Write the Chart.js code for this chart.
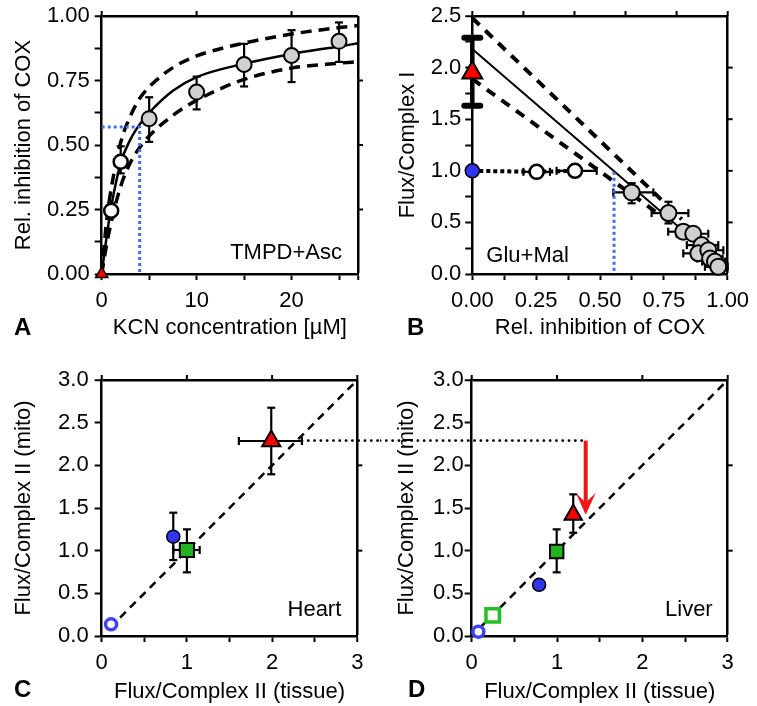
<!DOCTYPE html>
<html>
<head>
<meta charset="utf-8">
<script src="https://cdn.jsdelivr.net/npm/chart.js@4.4.1/dist/chart.umd.min.js"></script>
<style>
    html, body { margin: 0; padding: 0; background: #fff; }
    #wrap { position: relative; width: 757px; height: 706px; overflow: hidden; }
    canvas { position: absolute; }
</style>
</head>
<body>
<div id="wrap">
    <canvas id="chartA" width="380" height="340" style="left:0px;top:0px"></canvas>
    <canvas id="chartB" width="377" height="340" style="left:380px;top:0px"></canvas>
    <canvas id="chartC" width="380" height="366" style="left:0px;top:340px"></canvas>
    <canvas id="chartD" width="377" height="366" style="left:380px;top:340px"></canvas>
</div>
<script>
// ---------- A: KCN titration (TMPD+Asc) ----------
const kcnOpen = [1, 2];
const inhibOpen = [0.245, 0.435];
const inhibOpenLo = [0.22, 0.39];
const inhibOpenHi = [0.275, 0.495];
const kcnGray = [5, 10, 15, 20, 25];
const inhibGray = [0.602, 0.705, 0.812, 0.847, 0.902];
const inhibGrayLo = [0.512, 0.638, 0.727, 0.744, 0.822];
const inhibGrayHi = [0.685, 0.765, 0.892, 0.945, 0.975];
const fitKcn = [0, 0.5, 1, 2, 3, 4, 5, 7.5, 10, 15, 20, 25, 27];
const fitMid = [0, 0.14, 0.26, 0.43, 0.52, 0.58, 0.625, 0.71, 0.763, 0.815, 0.853, 0.882, 0.894];
const fitHigh = [0, 0.2, 0.33, 0.51, 0.61, 0.68, 0.725, 0.8, 0.845, 0.895, 0.93, 0.955, 0.963];
const fitLow = [0, 0.11, 0.2, 0.34, 0.43, 0.49, 0.535, 0.615, 0.673, 0.754, 0.798, 0.817, 0.823];
const guideAX = [0, 4.0, 4.0];
const guideAY = [0.57, 0.57, 0];

// ---------- B: flux vs COX inhibition (Glu+Mal) ----------
const bTriX = [0], bTriY = [1.95], bTriLo = [1.63], bTriHi = [2.29];
const bBlueX = [0], bBlueY = [1.0];
const bOpenX = [0.252, 0.402];
const bOpenY = [0.99, 1.0];
const bOpenXLo = [0.2, 0.33];
const bOpenXHi = [0.304, 0.487];
const bGrayX = [0.624, 0.768, 0.826, 0.865, 0.898, 0.885, 0.924, 0.931, 0.95, 0.963];
const bGrayY = [0.79, 0.59, 0.41, 0.39, 0.28, 0.2, 0.23, 0.15, 0.12, 0.07];
const bGrayXLo = [0.552, 0.702, 0.767, 0.8, 0.84, 0.826, 0.865, 0.88, 0.9, 0.911];
const bGrayXHi = [0.709, 0.846, 0.88, 0.924, 0.963, 0.94, 0.983, 0.98, 0.99, 1.0];
const bGrayYLo = [0.685, 0.49, 0.37, 0.35, 0.25, 0.17, 0.2, 0.12, 0.09, 0.05];
const bGrayYHi = [0.88, 0.70, 0.45, 0.43, 0.31, 0.23, 0.26, 0.18, 0.15, 0.09];
const bDotX = [0, 0.252, 0.402], bDotY = [1.0, 0.99, 1.0];
const guideBX = [0.555, 0.555], guideBY = [0.99, 0];
const regX = [0, 0.98], regMid = [2.18, 0.09];
const bandX = [0, 0.82], bandHigh = [2.48, 0.53], bandLow = [1.89, 0.42];

// ---------- C: heart ----------
const heartTriX = [1.99], heartTriY = [2.285];
const heartTriYLo = [1.895], heartTriYHi = [2.675], heartTriXLo = [1.61], heartTriXHi = [2.35];
const heartSqX = [1.0], heartSqY = [1.008];
const heartSqYLo = [0.746], heartSqYHi = [1.25], heartSqXLo = [0.84], heartSqXHi = [1.15];
const heartBlueX = [0.84], heartBlueY = [1.164], heartBlueYLo = [0.89], heartBlueYHi = [1.445];
const heartOpenX = [0.11], heartOpenY = [0.137];

// ---------- D: liver ----------
const liverTriX = [1.19], liverTriY = [1.42], liverTriYLo = [1.21], liverTriYHi = [1.66];
const liverSqX = [0.996], liverSqY = [0.99], liverSqYLo = [0.746], liverSqYHi = [1.25];
const liverBlueX = [0.79], liverBlueY = [0.60], liverBlueXLo = [0.745], liverBlueXHi = [0.835];
const liverOpenSqX = [0.246], liverOpenSqY = [0.242];
const liverOpenX = [0.078], liverOpenY = [0.05];

const identityX = [0.1, 3], identityY = [0.1, 3];
const bridgeY = 2.29;          // dotted line heart -> liver
const arrowX = 1.336, arrowTip = 1.42;

// ---------- tick lists (the last entry of x / y is the far edge of the box) ----------
const ticksA = { x: [0, 5, 10, 15, 20, 25, 27], xl: [0, 10, 20], xt: [0, 10, 20],
                 y: [0, 0.125, 0.25, 0.375, 0.5, 0.625, 0.75, 0.875, 1], yl: [0, 0.25, 0.5, 0.75, 1], yr: [0.25, 0.5, 0.75] };
const ticksB = { x: [0, 0.125, 0.25, 0.375, 0.5, 0.625, 0.75, 0.875, 1], xl: [0, 0.25, 0.5, 0.75, 1], xt: [0, 0.2, 0.4, 0.6, 0.8, 1],
                 y: [0, 0.25, 0.5, 0.75, 1, 1.25, 1.5, 1.75, 2, 2.25, 2.5], yl: [0, 0.5, 1, 1.5, 2, 2.5], yr: [0.5, 1, 1.5, 2] };
const ticksCD = { x: [0, 0.5, 1, 1.5, 2, 2.5, 3], xl: [0, 1, 2, 3], xt: [0, 1, 2, 3],
                  y: [0, 0.5, 1, 1.5, 2, 2.5, 3], yl: [0, 0.5, 1, 1.5, 2, 2.5, 3], yr: [1, 2] };

const RED = '#ff0000', BLUE = '#3035f2', GREEN = '#1eb41e', GUIDE = '#3f6df4', GRAY = '#d0d0d0';

Chart.defaults.font.family = "'Liberation Sans', Arial, Helvetica, sans-serif";
Chart.defaults.font.size = 22;
Chart.defaults.color = '#000';

let pt = function (xs, ys) {
    return xs.map(function (x, i) { return { x: x, y: ys[i] }; });
};

let marker = function (xs, ys, style) {
    return Object.assign({ data: pt(xs, ys), showLine: false, clip: false,
        borderColor: '#000', borderWidth: 2, pointHoverRadius: style.pointRadius }, style);
};

let curve = function (xs, ys, style) {
    return Object.assign({ data: pt(xs, ys), showLine: true, pointRadius: 0, pointHoverRadius: 0,
        fill: false, clip: false, borderColor: '#000', borderWidth: 2.5 }, style);
};

let same = function (a, b) { return Math.abs(a - b) < 1e-9; };

let frameAxes = function (p) {
    let edge = { display: true, width: 2.5, color: '#000' };
    // grid lines are only drawn (in black) at the far edge, which closes the box
    let marks = function (len, far) {
        return {
            display: true, drawOnChartArea: true, drawTicks: true, tickLength: len,
            tickWidth: 2, tickColor: '#000',
            color: function (c) { return c.tick && same(c.tick.value, far) ? '#000' : 'rgba(0,0,0,0)'; },
            lineWidth: function (c) { return c.tick && same(c.tick.value, far) ? 2.5 : 1; }
        };
    };
    let fixTicks = function (list) {
        return function (scale) { scale.ticks = list.map(function (v) { return { value: v }; }); };
    };
    let label = function (list, digits) {
        return function (value) {
            return list.some(function (v) { return same(v, value); }) ? value.toFixed(digits) : '';
        };
    };
    let size = function (key, px) {
        return function (scale) {
            scale[key] = px;
            scale.paddingLeft = 0; scale.paddingRight = 0; scale.paddingTop = 0; scale.paddingBottom = 0;
        };
    };
    let t = p.ticks;
    return {
        x: { type: 'linear', position: 'bottom', min: p.xMin, max: p.xMax, border: edge, grid: marks(6, p.xMax),
             afterBuildTicks: fixTicks(t.x), afterFit: size('height', p.box[3]),
             ticks: { autoSkip: false, maxRotation: 0, padding: 8, callback: label(t.xl, p.xDigits) },
             title: { display: true, text: p.xTitle, font: { size: 22, lineHeight: 1 }, padding: { top: 0, bottom: p.xTitlePad } } },
        y: { type: 'linear', position: 'left', min: p.yMin, max: p.yMax, border: edge, grid: marks(7, p.yMax),
             afterBuildTicks: fixTicks(t.y), afterFit: size('width', p.box[0]),
             ticks: { autoSkip: false, padding: p.yTickPad, callback: label(t.yl, p.yDigits) },
             title: { display: true, text: p.yTitle, font: { size: 22, lineHeight: 1 }, padding: { top: p.yTitlePad, bottom: 0 } } }
    };
};

let seg = function (ctx, x1, y1, x2, y2) {
    ctx.beginPath(); ctx.moveTo(x1, y1); ctx.lineTo(x2, y2); ctx.stroke();
};

let drawErrors = function (chart, list) {
    const ctx = chart.ctx, sx = chart.scales.x, sy = chart.scales.y;
    list.forEach(function (e) {
        ctx.save();
        ctx.setLineDash([]);
        ctx.strokeStyle = '#000';
        const cap = e.cap || 4, lw = e.lw || 2.2, capLw = e.capLw || 2.2;
        for (let i = 0; i < e.x.length; i++) {
            const px = sx.getPixelForValue(e.x[i]);
            const py = sy.getPixelForValue(e.y[i]);
            if (e.yLo) {
                const a = sy.getPixelForValue(e.yLo[i]), b = sy.getPixelForValue(e.yHi[i]);
                ctx.lineWidth = lw; ctx.lineCap = 'butt'; seg(ctx, px, a, px, b);
                ctx.lineWidth = capLw; ctx.lineCap = e.round ? 'round' : 'butt';
                seg(ctx, px - cap, a, px + cap, a); seg(ctx, px - cap, b, px + cap, b);
            }
            if (e.xLo) {
                const a = sx.getPixelForValue(e.xLo[i]), b = sx.getPixelForValue(e.xHi[i]);
                ctx.lineWidth = lw; ctx.lineCap = 'butt'; seg(ctx, a, py, b, py);
                ctx.lineWidth = capLw; ctx.lineCap = 'butt';
                seg(ctx, a, py - cap, a, py + cap); seg(ctx, b, py - cap, b, py + cap);
            }
        }
        ctx.restore();
    });
};

let drawExtras = function (chart, o, p) {
    const ctx = chart.ctx, area = chart.chartArea, sx = chart.scales.x, sy = chart.scales.y;
    ctx.save();
    ctx.setLineDash([]);
    ctx.fillStyle = '#000';
    ctx.textBaseline = 'middle';
    if (o.note) {
        ctx.font = "22px 'Liberation Sans', Arial, sans-serif";
        ctx.textAlign = o.note.align;
        let nx = o.note.align === 'left' ? area.left + o.note.dx : area.right - o.note.dx;
        ctx.fillText(o.note.text, nx, area.bottom - o.note.dy);
    }
    if (o.letter) {
        ctx.font = "bold 24px 'Liberation Sans', Arial, sans-serif";
        ctx.textAlign = 'left';
        ctx.textBaseline = 'alphabetic';
        ctx.fillText(o.letter.text, o.letter.x, o.letter.y);
    }
    if (o.bridge) {
        const y = sy.getPixelForValue(o.bridge.y);
        const x1 = o.bridge.from === null ? 0 : sx.getPixelForValue(o.bridge.from);
        const x2 = o.bridge.to === null ? chart.width : sx.getPixelForValue(o.bridge.to);
        ctx.strokeStyle = '#000';
        ctx.lineWidth = 2.8;
        ctx.lineCap = 'round';
        ctx.setLineDash([0.1, 6.2]);
        seg(ctx, x1, y, x2, y);
        ctx.setLineDash([]);
    }
    if (o.arrow) {
        const x = sx.getPixelForValue(o.arrow.x);
        const y1 = sy.getPixelForValue(o.arrow.from);
        const y2 = sy.getPixelForValue(o.arrow.to);
        ctx.strokeStyle = '#f01616';
        ctx.fillStyle = '#f01616';
        ctx.lineWidth = 4;
        ctx.lineCap = 'butt';
        seg(ctx, x, y1, x, y2 - 12);
        ctx.beginPath();
        ctx.moveTo(x, y2);
        ctx.lineTo(x - 10, y2 - 22);
        ctx.lineTo(x, y2 - 12);
        ctx.lineTo(x + 10, y2 - 22);
        ctx.closePath();
        ctx.fill();
    }
    // outward tick marks on the top and right edges
    const top = sy.getPixelForValue(p.yMax), right = sx.getPixelForValue(p.xMax);
    ctx.strokeStyle = '#000';
    ctx.lineCap = 'butt';
    ctx.lineWidth = 2;
    p.ticks.xt.forEach(function (v) {
        const x = sx.getPixelForValue(v);
        seg(ctx, x, top, x, top - 5);
    });
    p.ticks.yr.forEach(function (v) {
        const y = sy.getPixelForValue(v);
        seg(ctx, right, y, right + 5, y);
    });
    ctx.restore();
};

let makeChart = function (id, datasets, p, decor) {
    return new Chart(document.getElementById(id), {
        type: 'scatter',
        data: { datasets: datasets },
        options: {
            responsive: false,
            animation: false,
            devicePixelRatio: 1,
            events: [],
            layout: { padding: { left: 0, bottom: 0, top: p.box[2], right: p.box[1] } },
            scales: frameAxes(p),
            plugins: { legend: { display: false }, tooltip: { enabled: false } }
        },
        plugins: [{
            id: 'decor',
            beforeDatasetsDraw: function (c) { drawErrors(c, decor.errors); },
            afterDraw: function (c) { drawExtras(c, decor, p); }
        }]
    });
};

// ---------- panel A ----------
makeChart('chartA', [
    marker([0], [0], { pointStyle: 'triangle', pointRadius: 7, backgroundColor: RED, borderWidth: 1.5 }),
    marker(kcnOpen, inhibOpen, { pointRadius: 7, backgroundColor: '#fff', borderWidth: 2.5 }),
    marker(kcnGray, inhibGray, { pointRadius: 7.5, backgroundColor: GRAY, borderWidth: 2 }),
    curve(guideAX, guideAY, { borderColor: GUIDE, borderWidth: 3, borderDash: [3, 3] }),
    curve(fitKcn, fitMid, { cubicInterpolationMode: 'monotone', borderWidth: 2.5 }),
    curve(fitKcn, fitHigh, { cubicInterpolationMode: 'monotone', borderWidth: 3.5, borderDash: [11, 7] }),
    curve(fitKcn, fitLow, { cubicInterpolationMode: 'monotone', borderWidth: 3.5, borderDash: [11, 7] })
], {
    xMin: 0, xMax: 27, yMin: 0, yMax: 1, ticks: ticksA, xDigits: 0, yDigits: 2,
    box: [101.7, 22, 16, 66], yTickPad: 5, xTitlePad: 1, yTitlePad: 13,
    xTitle: 'KCN concentration [\u00b5M]', yTitle: 'Rel. inhibition of COX'
}, {
    errors: [
        { x: kcnOpen, y: inhibOpen, yLo: inhibOpenLo, yHi: inhibOpenHi },
        { x: kcnGray, y: inhibGray, yLo: inhibGrayLo, yHi: inhibGrayHi }
    ],
    note: { text: 'TMPD+Asc', align: 'right', dx: 16, dy: 21 },
    letter: { text: 'A', x: 14, y: 335 }
});

// ---------- panel B ----------
makeChart('chartB', [
    marker(bTriX, bTriY, { pointStyle: 'triangle', pointRadius: 11.5, backgroundColor: RED, borderWidth: 2 }),
    marker(bBlueX, bBlueY, { pointRadius: 7, backgroundColor: BLUE, borderWidth: 1.5 }),
    marker(bOpenX, bOpenY, { pointRadius: 7, backgroundColor: '#fff', borderWidth: 2.5 }),
    marker(bGrayX, bGrayY, { pointRadius: 8, backgroundColor: GRAY, borderWidth: 2 }),
    curve(bDotX, bDotY, { borderWidth: 4, borderDash: [4, 3] }),
    curve(guideBX, guideBY, { borderColor: GUIDE, borderWidth: 3, borderDash: [3, 3] }),
    curve(regX, regMid, { borderWidth: 2 }),
    curve(bandX, bandHigh, { borderWidth: 4, borderDash: [10, 8] }),
    curve(bandX, bandLow, { borderWidth: 4, borderDash: [10, 8] })
], {
    xMin: 0, xMax: 1, yMin: 0, yMax: 2.5, ticks: ticksB, xDigits: 2, yDigits: 1,
    box: [92.3, 29.3, 16, 66], yTickPad: 4, xTitlePad: 1, yTitlePad: 17,
    xTitle: 'Rel. inhibition of COX', yTitle: 'Flux/Complex I'
}, {
    errors: [
        { x: bTriX, y: bTriY, yLo: bTriLo, yHi: bTriHi, lw: 4.5, cap: 8, capLw: 6, round: true },
        { x: bOpenX, y: bOpenY, xLo: bOpenXLo, xHi: bOpenXHi },
        { x: bGrayX, y: bGrayY, xLo: bGrayXLo, xHi: bGrayXHi, yLo: bGrayYLo, yHi: bGrayYHi }
    ],
    note: { text: 'Glu+Mal', align: 'left', dx: 14, dy: 18 },
    letter: { text: 'B', x: 27, y: 335 }
});

// ---------- panel C ----------
makeChart('chartC', [
    marker(heartTriX, heartTriY, { pointStyle: 'triangle', pointRadius: 10.5, backgroundColor: RED, borderWidth: 2 }),
    marker(heartBlueX, heartBlueY, { pointRadius: 6.5, backgroundColor: BLUE, borderWidth: 1.5 }),
    marker(heartSqX, heartSqY, { pointStyle: 'rect', pointRadius: 10, backgroundColor: GREEN, borderWidth: 2 }),
    marker(heartOpenX, heartOpenY, { pointRadius: 5.5, backgroundColor: '#fff', borderColor: '#3a44f7', borderWidth: 3.5 }),
    curve(identityX, identityY, { borderWidth: 2.5, borderDash: [8, 6] })
], {
    xMin: 0, xMax: 3, yMin: 0, yMax: 3, ticks: ticksCD, xDigits: 0, yDigits: 1,
    box: [101.7, 22.7, 40, 70], yTickPad: 6, xTitlePad: 3, yTitlePad: 13,
    xTitle: 'Flux/Complex II (tissue)', yTitle: 'Flux/Complex II (mito)'
}, {
    errors: [
        { x: heartBlueX, y: heartBlueY, yLo: heartBlueYLo, yHi: heartBlueYHi },
        { x: heartSqX, y: heartSqY, yLo: heartSqYLo, yHi: heartSqYHi, xLo: heartSqXLo, xHi: heartSqXHi },
        { x: heartTriX, y: heartTriY, yLo: heartTriYLo, yHi: heartTriYHi, xLo: heartTriXLo, xHi: heartTriXHi }
    ],
    note: { text: 'Heart', align: 'right', dx: 16, dy: 26 },
    letter: { text: 'C', x: 14, y: 357 },
    bridge: { y: bridgeY, from: heartTriXHi[0], to: null }
});

// ---------- panel D ----------
makeChart('chartD', [
    marker(liverTriX, liverTriY, { pointStyle: 'triangle', pointRadius: 10, backgroundColor: RED, borderWidth: 2 }),
    marker(liverSqX, liverSqY, { pointStyle: 'rect', pointRadius: 9.5, backgroundColor: GREEN, borderWidth: 2 }),
    marker(liverBlueX, liverBlueY, { pointRadius: 6.5, backgroundColor: BLUE, borderWidth: 1.5 }),
    marker(liverOpenSqX, liverOpenSqY, { pointStyle: 'rect', pointRadius: 9.5, backgroundColor: '#fff', borderColor: '#22c022', borderWidth: 3.5 }),
    marker(liverOpenX, liverOpenY, { pointRadius: 5.5, backgroundColor: '#fff', borderColor: '#3a44f7', borderWidth: 3.5 }),
    curve(identityX, identityY, { borderWidth: 2.5, borderDash: [8, 6] })
], {
    xMin: 0, xMax: 3, yMin: 0, yMax: 3, ticks: ticksCD, xDigits: 0, yDigits: 1,
    box: [91.7, 29.3, 40, 70], yTickPad: 1, xTitlePad: 3, yTitlePad: 16,
    xTitle: 'Flux/Complex II (tissue)', yTitle: 'Flux/Complex II (mito)'
}, {
    errors: [
        { x: liverBlueX, y: liverBlueY, xLo: liverBlueXLo, xHi: liverBlueXHi },
        { x: liverSqX, y: liverSqY, yLo: liverSqYLo, yHi: liverSqYHi },
        { x: liverTriX, y: liverTriY, yLo: liverTriYLo, yHi: liverTriYHi }
    ],
    note: { text: 'Liver', align: 'right', dx: 15, dy: 26 },
    letter: { text: 'D', x: 28, y: 357 },
    bridge: { y: bridgeY, from: null, to: arrowX },
    arrow: { x: arrowX, from: bridgeY, to: arrowTip }
});
</script>
</body>
</html>
